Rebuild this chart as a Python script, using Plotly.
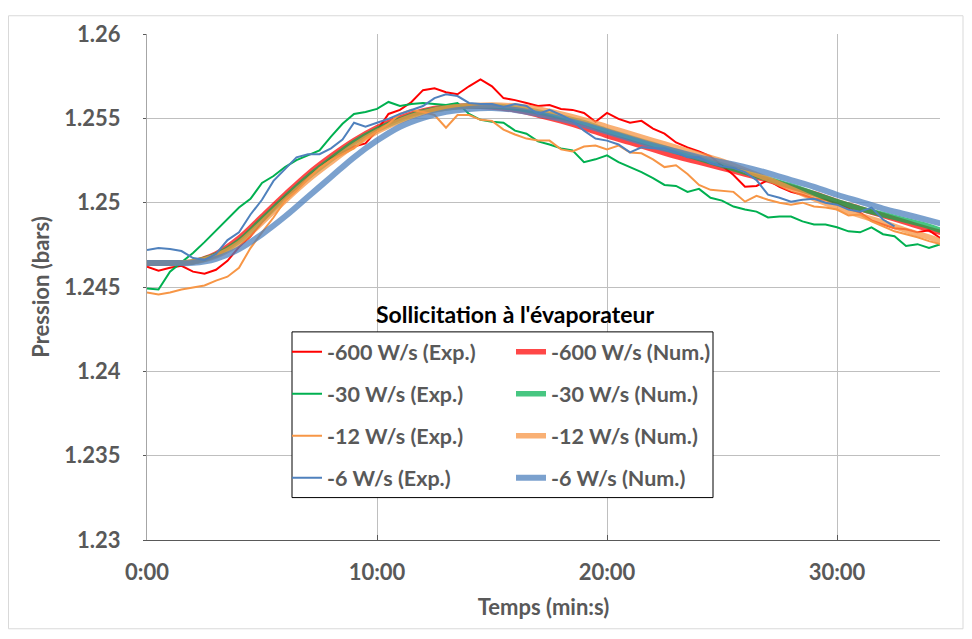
import plotly.graph_objects as go

# ---------------- data ----------------
t_exp = [0, 0.5, 1, 1.5, 2, 2.5, 3, 3.5, 4, 4.5, 5, 5.5, 6, 6.5, 7, 7.5, 8, 8.5, 9, 9.5,
         10, 10.5, 11, 11.5, 12, 12.5, 13, 13.5, 14, 14.5, 15, 15.5, 16, 16.5, 17, 17.5,
         18, 18.5, 19, 19.5, 20, 20.5, 21, 21.5, 22, 22.5, 23, 23.5, 24, 24.5, 25, 25.5,
         26, 26.5, 27, 27.5, 28, 28.5, 29, 29.5, 30, 30.5, 31, 31.5, 32, 32.5, 33, 33.5,
         34, 34.5]

p_exp_600 = [1.24620, 1.24596, 1.24614, 1.24626, 1.24591, 1.24579, 1.24602, 1.24655, 1.24737, 1.24801,
             1.24883, 1.24959, 1.25035, 1.25082, 1.25152, 1.25205, 1.25263, 1.25298, 1.25333, 1.25351,
             1.25427, 1.25526, 1.25550, 1.25597, 1.25667, 1.25678, 1.25655, 1.25643, 1.25690, 1.25731,
             1.25690, 1.25620, 1.25608, 1.25591, 1.25573, 1.25579, 1.25556, 1.25550, 1.25532, 1.25480,
             1.25532, 1.25497, 1.25474, 1.25485, 1.25439, 1.25409, 1.25357, 1.25328, 1.25304, 1.25275,
             1.25222, 1.25164, 1.25094, 1.25099, 1.25134, 1.25094, 1.25064, 1.25047, 1.25023, 1.25017,
             1.24994, 1.24965, 1.24941, 1.24895, 1.24871, 1.24848, 1.24842, 1.24824, 1.24836, 1.24789]

p_exp_30 = [1.24491, 1.24485, 1.24591, 1.24649, 1.24702, 1.24766, 1.24836, 1.24900, 1.24971, 1.25023,
            1.25117, 1.25158, 1.25211, 1.25252, 1.25281, 1.25310, 1.25392, 1.25468, 1.25526, 1.25538,
            1.25556, 1.25597, 1.25573, 1.25585, 1.25591, 1.25585, 1.25579, 1.25591, 1.25526, 1.25491,
            1.25480, 1.25474, 1.25427, 1.25409, 1.25363, 1.25345, 1.25322, 1.25310, 1.25240, 1.25257,
            1.25281, 1.25240, 1.25211, 1.25181, 1.25146, 1.25105, 1.25099, 1.25064, 1.25082, 1.25029,
            1.25012, 1.24977, 1.24959, 1.24947, 1.24912, 1.24918, 1.24918, 1.24889, 1.24871, 1.24871,
            1.24854, 1.24830, 1.24824, 1.24854, 1.24813, 1.24801, 1.24743, 1.24754, 1.24731, 1.24754]

p_exp_12 = [1.24468, 1.24456, 1.24468, 1.24485, 1.24497, 1.24509, 1.24538, 1.24561, 1.24614, 1.24731,
            1.24824, 1.24912, 1.25012, 1.25070, 1.25140, 1.25205, 1.25252, 1.25287, 1.25322, 1.25380,
            1.25421, 1.25468, 1.25526, 1.25550, 1.25538, 1.25520, 1.25444, 1.25520, 1.25520, 1.25491,
            1.25485, 1.25433, 1.25404, 1.25380, 1.25368, 1.25368, 1.25316, 1.25304, 1.25333, 1.25339,
            1.25316, 1.25339, 1.25298, 1.25293, 1.25257, 1.25211, 1.25222, 1.25170, 1.25105, 1.25076,
            1.25070, 1.25064, 1.25006, 1.25041, 1.25017, 1.25000, 1.24988, 1.25000, 1.24977, 1.24971,
            1.24959, 1.24924, 1.24930, 1.24889, 1.24860, 1.24830, 1.24813, 1.24795, 1.24772, 1.24754]

t_exp_6 = t_exp[:66]
p_exp_6 = [1.24719, 1.24731, 1.24725, 1.24713, 1.24672, 1.24661, 1.24696, 1.24778, 1.24824, 1.24930,
           1.25017, 1.25129, 1.25199, 1.25269, 1.25287, 1.25287, 1.25322, 1.25374, 1.25474, 1.25450,
           1.25474, 1.25497, 1.25526, 1.25550, 1.25573, 1.25620, 1.25643, 1.25632, 1.25591, 1.25585,
           1.25585, 1.25567, 1.25585, 1.25573, 1.25526, 1.25550, 1.25520, 1.25485, 1.25427, 1.25380,
           1.25368, 1.25345, 1.25298, 1.25328, 1.25322, 1.25322, 1.25298, 1.25269, 1.25269, 1.25234,
           1.25216, 1.25205, 1.25181, 1.25134, 1.25047, 1.25029, 1.25006, 1.25017, 1.25023, 1.25000,
           1.24988, 1.24959, 1.24947, 1.24971, 1.24900, 1.24860]

t_num = [0, 1, 2, 3, 4, 5, 6, 7, 8, 9, 10, 11, 12, 13, 14, 15, 16, 17, 18, 19, 20, 21, 22,
         23, 24, 25, 26, 27, 28, 29, 30, 31, 32, 33, 34, 34.5]

p_num_600 = [1.24643, 1.24643, 1.24649, 1.24696, 1.24789, 1.24918, 1.25047, 1.25170, 1.25275, 1.25368,
             1.25444, 1.25503, 1.25544, 1.25567, 1.25573, 1.25567, 1.25550, 1.25520, 1.25485, 1.25444,
             1.25398, 1.25357, 1.25316, 1.25275, 1.25240, 1.25205, 1.25170, 1.25134, 1.25094, 1.25053,
             1.25006, 1.24965, 1.24924, 1.24883, 1.24842, 1.24824]

p_num_30 = [1.24643, 1.24643, 1.24649, 1.24690, 1.24772, 1.24900, 1.25029, 1.25152, 1.25257, 1.25357,
            1.25433, 1.25491, 1.25538, 1.25561, 1.25573, 1.25573, 1.25561, 1.25538, 1.25509, 1.25474,
            1.25427, 1.25386, 1.25345, 1.25304, 1.25263, 1.25222, 1.25181, 1.25140, 1.25099, 1.25053,
            1.25006, 1.24965, 1.24930, 1.24895, 1.24860, 1.24836]

p_num_12 = [1.24643, 1.24643, 1.24649, 1.24684, 1.24760, 1.24883, 1.25012, 1.25134, 1.25240, 1.25339,
            1.25421, 1.25485, 1.25532, 1.25561, 1.25573, 1.25579, 1.25573, 1.25556, 1.25526, 1.25491,
            1.25450, 1.25409, 1.25368, 1.25328, 1.25287, 1.25246, 1.25193, 1.25140, 1.25082, 1.25023,
            1.24971, 1.24924, 1.24883, 1.24836, 1.24795, 1.24772]

p_num_6 = [1.24643, 1.24643, 1.24643, 1.24667, 1.24725, 1.24813, 1.24918, 1.25035, 1.25152, 1.25269,
           1.25368, 1.25450, 1.25503, 1.25538, 1.25556, 1.25561, 1.25550, 1.25526, 1.25497, 1.25462,
           1.25421, 1.25380, 1.25339, 1.25304, 1.25269, 1.25240, 1.25211, 1.25175, 1.25134, 1.25094,
           1.25047, 1.25006, 1.24965, 1.24930, 1.24895, 1.24877]

x_tickvals = [0, 10, 20, 30]
x_ticktext = ["0:00", "10:00", "20:00", "30:00"]
y_tickvals = [1.23, 1.235, 1.24, 1.245, 1.25, 1.255, 1.26]
y_ticktext = ["1.23", "1.235", "1.24", "1.245", "1.25", "1.255", "1.26"]

# ---------------- styling ----------------
FONT = "Lato"
GREY = "#595959"
OFF = 8                      # default body margin of the html page
W, H = 972 - 2 * OFF, 639 - 2 * OFF
PLOT_L, PLOT_R, PLOT_T, PLOT_B = 147, 940, 27, 540     # page pixels
L, T = PLOT_L - OFF, PLOT_T - OFF
R, B = W - (PLOT_R - OFF), H - (PLOT_B - OFF)
PW, PH = PLOT_R - PLOT_L, PLOT_B - PLOT_T


def px_x(px):
    return (px - PLOT_L) / PW


def px_y(py):
    return (PLOT_B - py) / PH


fig = go.Figure()

series = [
    ("-600 W/s (Exp.)", t_exp, p_exp_600, "#FF0000", 2, "legend", False),
    ("-600 W/s (Num.)", t_num, p_num_600, "rgba(255,0,0,0.72)", 5.5, "legend2", True),
    ("-30 W/s (Exp.)", t_exp, p_exp_30, "#00B050", 2, "legend", False),
    ("-30 W/s (Num.)", t_num, p_num_30, "rgba(0,176,80,0.72)", 5.5, "legend2", True),
    ("-12 W/s (Exp.)", t_exp, p_exp_12, "#F79646", 2, "legend", False),
    ("-12 W/s (Num.)", t_num, p_num_12, "rgba(247,150,70,0.75)", 5.5, "legend2", True),
    ("-6 W/s (Exp.)", t_exp_6, p_exp_6, "#4F81BD", 2, "legend", False),
    ("-6 W/s (Num.)", t_num, p_num_6, "rgba(79,129,189,0.75)", 6, "legend2", True),
]

for i, (name, xs, ys, col, w, leg, smooth) in enumerate(series):
    fig.add_trace(go.Scatter(
        x=xs, y=ys, mode="lines", name=name,
        line=dict(color=col, width=w, shape="spline" if smooth else "linear",
                  smoothing=1.0 if smooth else None),
        legend=leg, legendgroup="g%d" % i,
    ))

legend_common = dict(
    font=dict(family=FONT, size=21.5, color=GREY, weight=700),
    bgcolor="rgba(0,0,0,0)", borderwidth=0,
    xanchor="left", yanchor="top", tracegroupgap=11,
    itemwidth=30,
)

fig.update_layout(
    width=W, height=H,
    margin=dict(l=L, r=R, t=T, b=B, pad=0),
    paper_bgcolor="white", plot_bgcolor="white",
    font=dict(family=FONT, color=GREY),
    showlegend=True,
    legend=dict(x=px_x(287), y=px_y(328.5), **legend_common),
    legend2=dict(x=px_x(511), y=px_y(328.5), **legend_common),
    xaxis=dict(
        range=[0, PW / 23.0], tickvals=x_tickvals, ticktext=x_ticktext,
        showgrid=True, gridcolor="#BFBFBF", gridwidth=1.3,
        showline=True, linecolor="#595959", linewidth=1,
        ticks="inside", ticklen=5, tickcolor="#595959",
        tickfont=dict(family=FONT, size=22, color=GREY, weight=700),
        ticklabelstandoff=13,
        title=dict(text="Temps (min:s)", standoff=15,
                   font=dict(family=FONT, size=22, color=GREY, weight=700)),
        zeroline=False,
    ),
    yaxis=dict(
        range=[1.23, 1.26], tickvals=y_tickvals, ticktext=y_ticktext,
        showgrid=True, gridcolor="#BFBFBF", gridwidth=1.3,
        showline=True, linecolor="#A6A6A6", linewidth=1,
        ticks="outside", ticklen=3, tickcolor="#595959",
        tickfont=dict(family=FONT, size=22, color=GREY, weight=700),
        ticklabelstandoff=18,
        title=dict(text="Pression (bars)", standoff=8,
                   font=dict(family=FONT, size=22, color=GREY, weight=700)),
        zeroline=False,
    ),
    shapes=[
        dict(type="rect", xref="paper", yref="paper",
             x0=px_x(292), x1=px_x(713), y0=px_y(497), y1=px_y(329),
             line=dict(color="black", width=1), fillcolor="white", layer="above"),
        dict(type="rect", xref="paper", yref="paper",
             x0=px_x(8.5), x1=px_x(963), y0=px_y(630), y1=px_y(8.5),
             line=dict(color="#D9D9D9", width=1), fillcolor="rgba(0,0,0,0)", layer="below"),
    ],
    annotations=[
        dict(text="Sollicitation à l'évaporateur", xref="paper", yref="paper",
             x=px_x(515), y=px_y(311), xanchor="center", yanchor="middle",
             showarrow=False, font=dict(family=FONT, size=23, color="black", weight=700)),
    ],
)

fig.write_html("out.html")
